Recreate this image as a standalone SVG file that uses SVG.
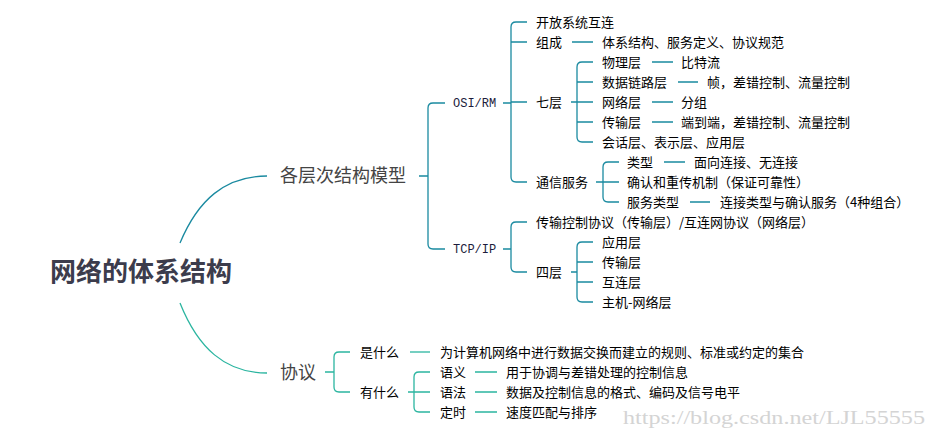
<svg xmlns="http://www.w3.org/2000/svg" width="938" height="438" viewBox="0 0 938 438">
<style>
text{font-family:"Noto Sans CJK SC","Noto Sans",sans-serif;}
.t{font-size:13px;fill:#000;}
.m{font-family:"Liberation Mono","DejaVu Sans Mono",monospace;font-size:12px;fill:#1c1c3c;}
.big{font-size:18px;fill:#444;}
.root{font-size:26px;font-weight:bold;fill:#3c3c4c;}
.cu{fill:none;stroke:#1a8aa0;stroke-width:1.3;}
.cl{fill:none;stroke:#2bb5a0;stroke-width:1.3;}
.wm{font-family:"Liberation Serif",serif;font-size:19px;fill:#d4d4d4;}
</style>
<rect width="938" height="438" fill="#fff"/>
<g id="connectors">
  <path class="cu" d="M180 243 C198 200 225 176 267 176"/>
  <path class="cl" d="M180 303 C198 348 225 373 267 373"/>
  <!-- bracket A -->
  <path class="cu" d="M419 176 H428 M445 103 H433 Q428 103 428 108 V244 Q428 249 433 249 H445"/>
  <!-- bracket B OSI/RM -->
  <path class="cu" d="M503 103 H511 M527 22 H516 Q511 22 511 27 V177 Q511 182 516 182 H527 M511 42 H527 M511 102 H527"/>
  <!-- bracket C 七层 -->
  <path class="cu" d="M571 102 H577 M593 62 H582 Q577 62 577 67 V137 Q577 142 582 142 H593 M577 82 H593 M577 102 H593 M577 122 H593"/>
  <!-- bracket D 通信服务 -->
  <path class="cu" d="M596 182 H603 M619 162 H608 Q603 162 603 167 V197 Q603 202 608 202 H619 M603 182 H619"/>
  <!-- bracket E TCP/IP -->
  <path class="cu" d="M503 249 H511 M527 222 H516 Q511 222 511 227 V267 Q511 272 516 272 H527"/>
  <!-- bracket F 四层 -->
  <path class="cu" d="M571 272 H577 M593 242 H582 Q577 242 577 247 V297 Q577 302 582 302 H593 M577 262 H593 M577 282 H593"/>
  <!-- dashes -->
  <path class="cu" d="M572 42 H593 M652 62 H673 M678 82 H698 M652 102 H673 M652 122 H673 M664 162 H685 M690 202 H710"/>
  <!-- bracket G 协议 -->
  <path class="cl" d="M325 372 H334 M350 352 H339 Q334 352 334 357 V387 Q334 392 339 392 H350"/>
  <path class="cl" d="M410 352 H430"/>
  <!-- bracket H 有什么 -->
  <path class="cl" d="M408 392 H414 M430 372 H419 Q414 372 414 377 V407 Q414 412 419 412 H430 M414 392 H430"/>
  <path class="cl" d="M475 372 H497 M475 392 H497 M475 412 H497"/>
</g>
<g id="root"><text class="root" x="50" y="281">网络的体系结构</text></g>
<g id="n-model"><text class="big" x="280" y="182">各层次结构模型</text></g>
<g id="n-osi"><text class="m" x="453" y="107">OSI/RM</text></g>
<g id="n-tcp"><text class="m" x="453" y="253">TCP/IP</text></g>
<g id="n-kaifang"><text class="t" x="536" y="27">开放系统互连</text></g>
<g id="n-zucheng"><text class="t" x="536" y="47">组成</text><text class="t" x="602" y="47">体系结构、服务定义、协议规范</text></g>
<g id="n-qiceng"><text class="t" x="536" y="107">七层</text></g>
<g id="n-wuli"><text class="t" x="602" y="67">物理层</text><text class="t" x="681" y="67">比特流</text></g>
<g id="n-shuju"><text class="t" x="602" y="87">数据链路层</text><text class="t" x="707" y="87">帧，差错控制、流量控制</text></g>
<g id="n-wangluo"><text class="t" x="602" y="107">网络层</text><text class="t" x="681" y="107">分组</text></g>
<g id="n-chuanshu"><text class="t" x="602" y="127">传输层</text><text class="t" x="681" y="127">端到端，差错控制、流量控制</text></g>
<g id="n-huihua"><text class="t" x="602" y="147">会话层、表示层、应用层</text></g>
<g id="n-tongxin"><text class="t" x="536" y="187">通信服务</text></g>
<g id="n-leixing"><text class="t" x="627" y="167">类型</text><text class="t" x="694" y="167">面向连接、无连接</text></g>
<g id="n-queren"><text class="t" x="627" y="187">确认和重传机制（保证可靠性）</text></g>
<g id="n-fuwu"><text class="t" x="627" y="207">服务类型</text><text class="t" x="720" y="207">连接类型与确认服务（4种组合）</text></g>
<g id="n-tcpdesc"><text class="t" x="536" y="227">传输控制协议（传输层）/互连网协议（网络层）</text></g>
<g id="n-siceng"><text class="t" x="536" y="277">四层</text></g>
<g id="n-yingyong"><text class="t" x="602" y="247">应用层</text></g>
<g id="n-chuanshu2"><text class="t" x="602" y="267">传输层</text></g>
<g id="n-hulian"><text class="t" x="602" y="287">互连层</text></g>
<g id="n-zhuji"><text class="t" x="602" y="307">主机-网络层</text></g>
<g id="n-xieyi"><text class="big" x="280" y="379">协议</text></g>
<g id="n-shishenme"><text class="t" x="360" y="357">是什么</text><text class="t" x="440" y="357">为计算机网络中进行数据交换而建立的规则、标准或约定的集合</text></g>
<g id="n-youshenme"><text class="t" x="360" y="397">有什么</text></g>
<g id="n-yuyi"><text class="t" x="440" y="377">语义</text><text class="t" x="506" y="377">用于协调与差错处理的控制信息</text></g>
<g id="n-yufa"><text class="t" x="440" y="397">语法</text><text class="t" x="506" y="397">数据及控制信息的格式、编码及信号电平</text></g>
<g id="n-dingshi"><text class="t" x="440" y="417">定时</text><text class="t" x="506" y="417">速度匹配与排序</text></g>
<text class="wm" x="623" y="424" textLength="302" lengthAdjust="spacingAndGlyphs">https://blog.csdn.net/LJL55555</text>
</svg>
